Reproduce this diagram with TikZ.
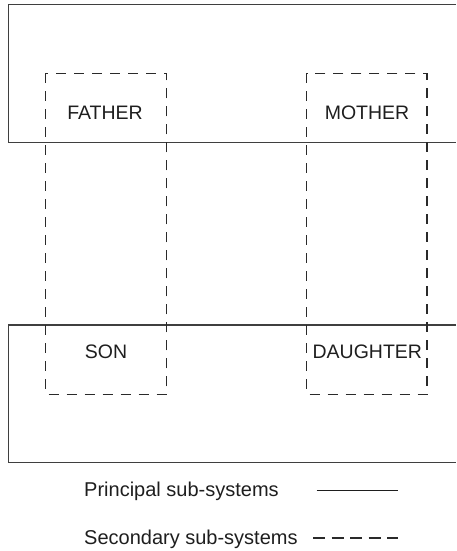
\documentclass[tikz,border=0pt]{standalone}
\usepackage{fontspec}
\setmainfont{Liberation Sans}
\usepackage{xcolor}
\usepackage{tikz}
\usetikzlibrary{positioning, calc}
\definecolor{lineprimary}{HTML}{3F3F3F}
\definecolor{linedash}{HTML}{2A2A2A}
\definecolor{textdark}{HTML}{1E1E1E}

\begin{document}
\begin{tikzpicture}[x=1pt, y=-1pt,
    principal/.style={draw=lineprimary, line width=1.4pt},
    secondary/.style={draw=linedash, line width=1.2pt, dash pattern=on 10pt off 8pt},
    member/.style={font=\fontsize{19.5}{22}\selectfont, text=textdark, inner sep=0pt},
    legend/.style={font=\fontsize{20}{24}\selectfont, text=textdark, inner sep=0pt, anchor=west}
]
\useasboundingbox (0,0) rectangle (456,551);

% Principal sub-systems (open on the right)
\draw[principal] (456,4.3) -- (8.3,4.3) -- (8.3,142.7) -- (456,142.7);
\draw[principal] (456,325) -- (8.3,325) -- (8.3,462.3) -- (456,462.3);

% Secondary sub-systems
\draw[secondary] (45.7,73.3) rectangle (166.7,394.3);
\draw[secondary] (306.7,73.3) rectangle (427,394.3);

% Members
\node[member] (father) at (105,113) {FATHER};
\node[member] (mother) at (367,113) {MOTHER};
\node[member] (son) at (106,352) {SON};
\node[member] (daughter) at (367.3,352) {DAUGHTER};

% Legend
\node[legend] (lprincipal) at (84,491.7) {Principal sub-systems};
\node[legend] (lsecondary) at (84,539) {Secondary sub-systems};
\coordinate (pa) at (316.7,490.7);
\coordinate (pb) at (398.3,490.7);
\coordinate (sa) at (313,538);
\coordinate (sb) at (398.3,538);
\draw[draw=textdark, line width=1.1pt] (pa) -- (pb);
\draw[secondary, dash pattern=on 12pt off 6.5pt] (sa) -- (sb);

\end{tikzpicture}
\end{document}
